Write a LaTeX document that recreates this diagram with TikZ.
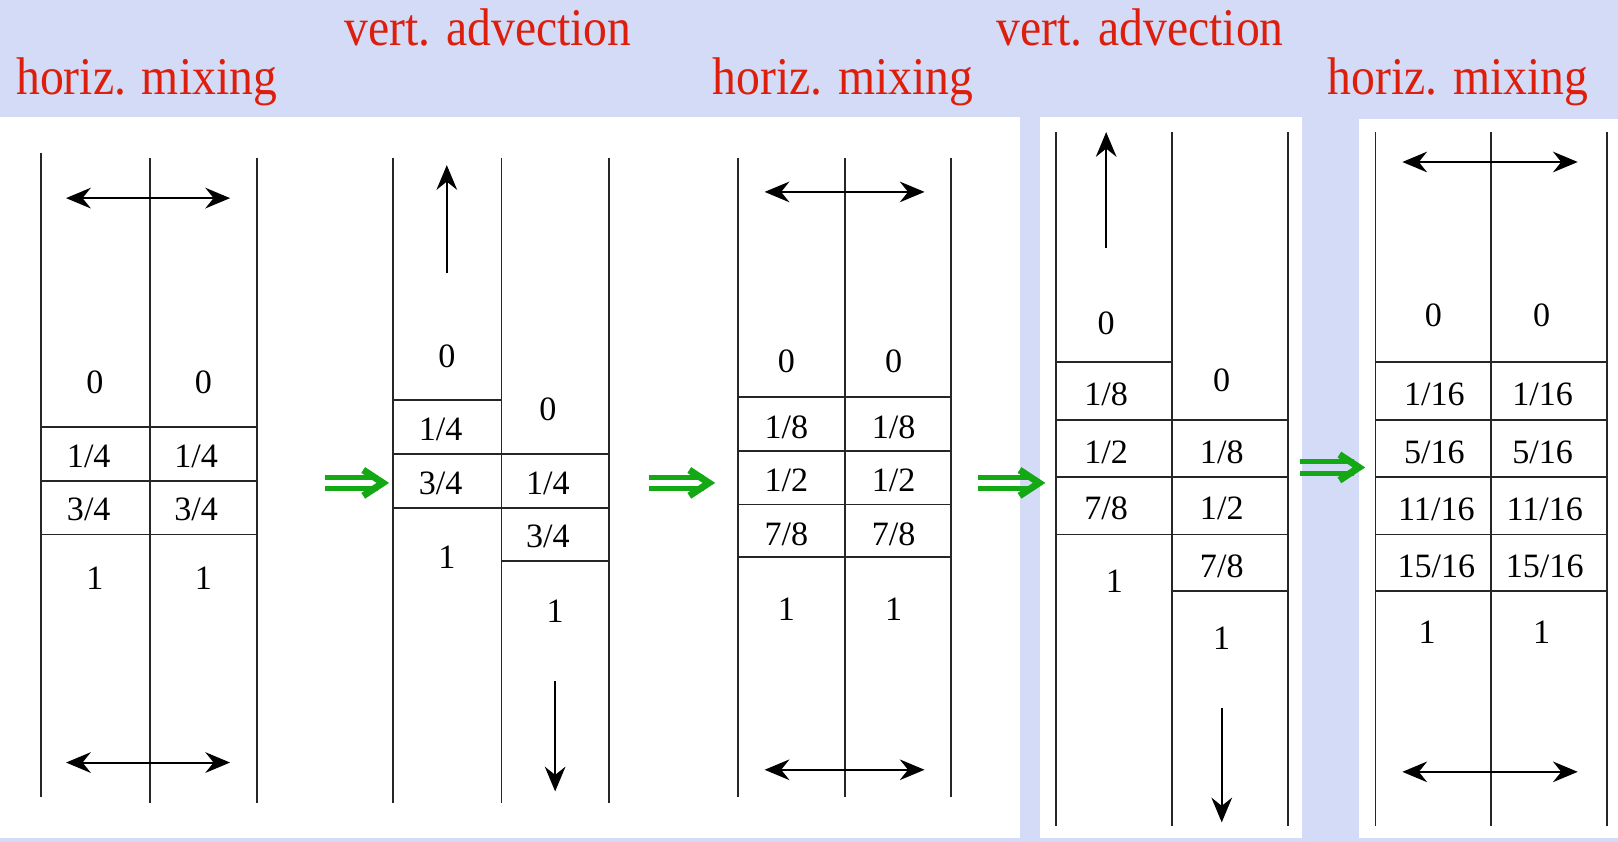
\documentclass[tikz,border=0pt]{standalone}
\usepackage{fontspec}
\usepackage{graphicx}
\setmainfont{Liberation Serif}
\newfontfamily\labfont{Liberation Serif}
\usetikzlibrary{arrows.meta,calc}
\definecolor{bgblue}{RGB}{211,219,247}
\definecolor{titlered}{RGB}{222,30,12}
\definecolor{arrgreen}{RGB}{20,168,20}
\tikzset{
  ttl/.style={anchor=base west, inner sep=0pt, text=titlered, font=\fontsize{14.6}{16}\selectfont},
  lab/.style={inner sep=0pt, font=\labfont\fontsize{9.4}{10}\selectfont},
  wall/.style={line width=0.5pt, black!85},
  tip/.tip={Stealth[length=2.4mm,width=2.0mm,inset=0.8mm]},
  mix/.style={line width=0.55pt, tip-tip},
  adv/.style={line width=0.55pt, -tip},
  panelbg/.style={fill=white, draw=none},
  gbar/.style={arrgreen, line width=1.35pt},
  ghead/.style={arrgreen, line width=1.9pt, line join=miter},
}
\newcommand{\lb}[1]{#1}
\newcommand{\tl}[1]{\scalebox{0.9}[1]{#1}}
\newcommand{\garrow}[2]{%
  \draw[gbar] ($(#1)+(0,-5.5)$) -- ($(#2)+(-7,-5.5)$);
  \draw[gbar] ($(#1)+(0,5.5)$) -- ($(#2)+(-7,5.5)$);
  \draw[ghead] ($(#2)+(-21,-12.5)$) -- ($(#2)+(-2,0)$) -- ($(#2)+(-21,12.5)$);}
\begin{document}
\begin{tikzpicture}[x=0.01cm,y=-0.01cm]
\useasboundingbox (0,0) rectangle (1568,816);
\fill[bgblue] (0,0) rectangle (1568,816);
\fill[panelbg] (0,113) rectangle (988,812);
\fill[panelbg] (1008,113) rectangle (1262,812);
\fill[panelbg] (1317,115) rectangle (1568,812);
% titles
\node[ttl] (t1) at (15,92) {\tl{horiz. mixing}};
\node[ttl] (t2) at (333,44) {\tl{vert. advection}};
\node[ttl] (t3) at (690,92) {\tl{horiz. mixing}};
\node[ttl] (t4) at (965,44) {\tl{vert. advection}};
\node[ttl] (t5) at (1286,92) {\tl{horiz. mixing}};
% ---------- panel 1
\draw[wall] (40,148) -- (40,772);
\draw[wall] (145,153) -- (145,778);
\draw[wall] (249,153) -- (249,778);
\foreach \y in {414,466,518} \draw[wall] (40,\y) -- (249,\y);
\coordinate (m1a) at (64,192); \coordinate (m1b) at (223,192);
\coordinate (m1c) at (64,739); \coordinate (m1d) at (223,739);
\draw[mix] (m1a) -- (m1b);
\draw[mix] (m1c) -- (m1d);
\node[lab] (p1a) at (92,371) {\lb{0}};
\node[lab] (p1b) at (197,371) {\lb{0}};
\node[lab] (p1c) at (86,442) {\lb{1/4}};
\node[lab] (p1d) at (190,442) {\lb{1/4}};
\node[lab] (p1e) at (86,494) {\lb{3/4}};
\node[lab] (p1f) at (190,494) {\lb{3/4}};
\node[lab] (p1g) at (92,560) {\lb{1}};
\node[lab] (p1h) at (197,560) {\lb{1}};
% ---------- panel 2
\draw[wall] (381,153) -- (381,778);
\draw[wall] (486,153) -- (486,778);
\draw[wall] (590,153) -- (590,778);
\foreach \y in {388,440,492} \draw[wall] (381,\y) -- (486,\y);
\foreach \y in {440,492,544} \draw[wall] (486,\y) -- (590,\y);
\coordinate (u2a) at (433,265); \coordinate (u2b) at (433,160);
\coordinate (d2a) at (538,660); \coordinate (d2b) at (538,767);
\draw[adv] (u2a) -- (u2b);
\draw[adv] (d2a) -- (d2b);
\node[lab] (p2a) at (433,345) {\lb{0}};
\node[lab] (p2b) at (427,416) {\lb{1/4}};
\node[lab] (p2c) at (427,468) {\lb{3/4}};
\node[lab] (p2d) at (433,540) {\lb{1}};
\node[lab] (p2e) at (531,397) {\lb{0}};
\node[lab] (p2f) at (531,468) {\lb{1/4}};
\node[lab] (p2g) at (531,520) {\lb{3/4}};
\node[lab] (p2h) at (538,592) {\lb{1}};
% ---------- panel 3
\draw[wall] (715,153) -- (715,772);
\draw[wall] (819,153) -- (819,772);
\draw[wall] (922,153) -- (922,772);
\foreach \y in {385,437,489,540} \draw[wall] (715,\y) -- (922,\y);
\coordinate (m3a) at (741,186); \coordinate (m3b) at (896,186);
\coordinate (m3c) at (741,746); \coordinate (m3d) at (896,746);
\draw[mix] (m3a) -- (m3b);
\draw[mix] (m3c) -- (m3d);
\node[lab] (p3a) at (762,350) {\lb{0}};
\node[lab] (p3b) at (866,350) {\lb{0}};
\node[lab] (p3c) at (762,414) {\lb{1/8}};
\node[lab] (p3d) at (866,414) {\lb{1/8}};
\node[lab] (p3e) at (762,466) {\lb{1/2}};
\node[lab] (p3f) at (866,466) {\lb{1/2}};
\node[lab] (p3g) at (762,518) {\lb{7/8}};
\node[lab] (p3h) at (866,518) {\lb{7/8}};
\node[lab] (p3i) at (762,590) {\lb{1}};
\node[lab] (p3j) at (866,590) {\lb{1}};
% ---------- panel 4
\draw[wall] (1023,128) -- (1023,800);
\draw[wall] (1136,128) -- (1136,800);
\draw[wall] (1248,128) -- (1248,800);
\foreach \y in {351,407,462,518} \draw[wall] (1023,\y) -- (1136,\y);
\foreach \y in {407,462,518,573} \draw[wall] (1136,\y) -- (1248,\y);
\coordinate (u4a) at (1072,240); \coordinate (u4b) at (1072,128);
\coordinate (d4a) at (1184,686); \coordinate (d4b) at (1184,797);
\draw[adv] (u4a) -- (u4b);
\draw[adv] (d4a) -- (d4b);
\node[lab] (p4a) at (1072,313) {\lb{0}};
\node[lab] (p4b) at (1072,382) {\lb{1/8}};
\node[lab] (p4c) at (1072,438) {\lb{1/2}};
\node[lab] (p4d) at (1072,493) {\lb{7/8}};
\node[lab] (p4e) at (1080,563) {\lb{1}};
\node[lab] (p4f) at (1184,369) {\lb{0}};
\node[lab] (p4g) at (1184,438) {\lb{1/8}};
\node[lab] (p4h) at (1184,493) {\lb{1/2}};
\node[lab] (p4i) at (1184,549) {\lb{7/8}};
\node[lab] (p4j) at (1184,619) {\lb{1}};
% ---------- panel 5
\draw[wall] (1333,128) -- (1333,800);
\draw[wall] (1445,128) -- (1445,800);
\draw[wall] (1557,128) -- (1557,800);
\foreach \y in {351,407,462,518,573} \draw[wall] (1333,\y) -- (1557,\y);
\coordinate (m5a) at (1359,157); \coordinate (m5b) at (1529,157);
\coordinate (m5c) at (1359,748); \coordinate (m5d) at (1529,748);
\draw[mix] (m5a) -- (m5b);
\draw[mix] (m5c) -- (m5d);
\node[lab] (p5a) at (1389,306) {\lb{0}};
\node[lab] (p5b) at (1494,306) {\lb{0}};
\node[lab] (p5c) at (1390,382) {\lb{1/16}};
\node[lab] (p5d) at (1495,382) {\lb{1/16}};
\node[lab] (p5e) at (1390,438) {\lb{5/16}};
\node[lab] (p5f) at (1495,438) {\lb{5/16}};
\node[lab] (p5g) at (1392,494) {\lb{11/16}};
\node[lab] (p5h) at (1497,494) {\lb{11/16}};
\node[lab] (p5i) at (1392,549) {\lb{15/16}};
\node[lab] (p5j) at (1497,549) {\lb{15/16}};
\node[lab] (p5k) at (1383,613) {\lb{1}};
\node[lab] (p5l) at (1494,613) {\lb{1}};
% ---------- green step arrows
\coordinate (g1s) at (315,468); \coordinate (g1e) at (373,468);
\coordinate (g2s) at (629,468); \coordinate (g2e) at (689,468);
\coordinate (g3s) at (948,468); \coordinate (g3e) at (1009,468);
\coordinate (g4s) at (1260,453); \coordinate (g4e) at (1319,453);
\garrow{g1s}{g1e}
\garrow{g2s}{g2e}
\garrow{g3s}{g3e}
\garrow{g4s}{g4e}
\end{tikzpicture}
\end{document}
